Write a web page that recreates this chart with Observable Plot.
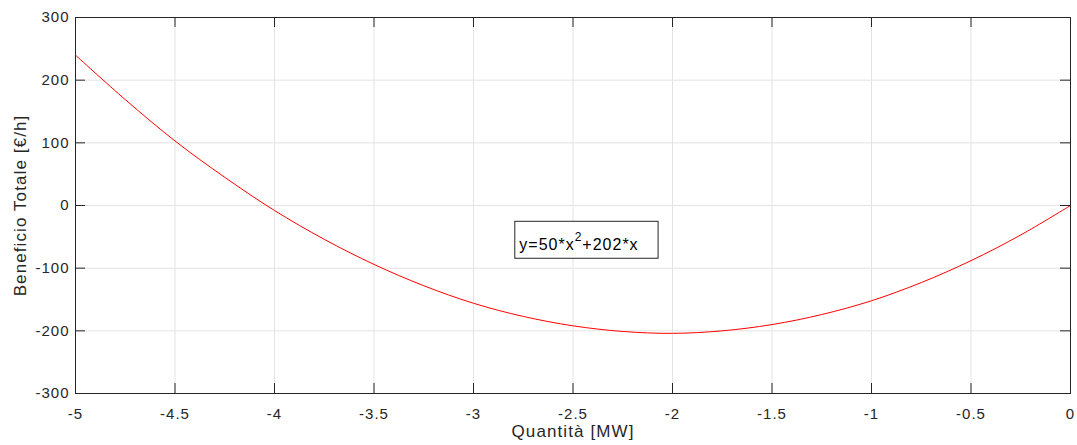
<!DOCTYPE html>
<html>
<head>
<meta charset="utf-8">
<script src="https://cdn.jsdelivr.net/npm/d3@7"></script>
<script src="https://cdn.jsdelivr.net/npm/@observablehq/plot@0.6"></script>
<style>
  html, body { margin: 0; padding: 0; background: #fff; }
  #chart { width: 1077px; height: 445px; }
  svg { font-family: "Liberation Sans", Arial, sans-serif; }
  svg text { letter-spacing: 1px; }
  g[aria-label="x-axis label"] text, g[aria-label="y-axis label"] text { font-size: 17px; letter-spacing: 1.1px; }
</style>
</head>
<body>
<div id="chart"></div>
<script>
// Quantità [MW] values
const quantita = [-5, -4.75, -4.5, -4.25, -4, -3.75, -3.5, -3.25, -3, -2.75, -2.5, -2.25, -2, -1.75, -1.5, -1.25, -1, -0.75, -0.5, -0.25, 0];
// Beneficio Totale [€/h] values
const beneficio = [240, 169, 103, 45, -8, -54, -94, -128, -156, -177, -192, -201, -204, -200, -190, -174, -152, -123, -88, -47, 0];
const xTicks = [-5, -4.5, -4, -3.5, -3, -2.5, -2, -1.5, -1, -0.5, 0];
const yTicks = [-300, -200, -100, 0, 100, 200, 300];
const annotationText = ["y=50*x", "2", "+202*x"];
const annotationBox = [{x1: -2.79, x2: -2.07, y1: -85, y2: -26}];

const data = quantita.map((q, i) => ({x: q, y: beneficio[i]}));
const axisColor = "#262626";
const gridColor = "#e3e3e3";
const W = 1077, H = 445, mL = 75, mR = 7, mT = 17, mB = 52;
const fw = W - mL - mR, fh = H - mT - mB;

const chart = Plot.plot({
  width: W, height: H,
  marginLeft: mL, marginRight: mR, marginTop: mT, marginBottom: mB,
  style: {fontFamily: "'Liberation Sans', Arial, sans-serif", fontSize: "15px", color: axisColor, background: "#fff"},
  x: {domain: [-5, 0]},
  y: {domain: [-300, 300]},
  marks: [
    Plot.gridX(xTicks, {stroke: gridColor, strokeOpacity: 1}),
    Plot.gridY(yTicks, {stroke: gridColor, strokeOpacity: 1}),
    Plot.line(data, {x: "x", y: "y", stroke: "#ff0000", strokeWidth: 1, curve: "catmull-rom"}),
    Plot.tickX(xTicks, {x: d => d, stroke: axisColor, insetTop: fh - 10}),
    Plot.tickX(xTicks, {x: d => d, stroke: axisColor, insetBottom: fh - 10}),
    Plot.tickY(yTicks, {y: d => d, stroke: axisColor, insetRight: fw - 10}),
    Plot.tickY(yTicks, {y: d => d, stroke: axisColor, insetLeft: fw - 10}),
    Plot.frame({stroke: axisColor, strokeWidth: 1}),
    Plot.axisX(xTicks, {tickSize: 0, tickPadding: 15, fontSize: 15, label: "Quantità [MW]", labelAnchor: "center", labelOffset: 43, labelArrow: "none", tickFormat: d => String(d)}),
    Plot.axisY(yTicks, {tickSize: 0, tickPadding: 6, fontSize: 15, label: "Beneficio Totale [€/h]", labelAnchor: "center", labelOffset: 62, labelArrow: "none", tickFormat: d => String(d)}),
    Plot.rect(annotationBox, {x1: "x1", x2: "x2", y1: "y1", y2: "y2", fill: "white", stroke: axisColor, strokeWidth: 1}),
    Plot.text(annotationBox, {x: "x1", y: d => (d.y1 + d.y2) / 2, text: () => annotationText.join(""), textAnchor: "start", dx: 4, dy: 5, fontSize: 16, fill: "#000", className: "anno"})
  ]
});

// superscript for the annotation
const annoText = chart.querySelector("g.anno text");
if (annoText) {
  annoText.textContent = "";
  const ns = "http://www.w3.org/2000/svg";
  const t1 = document.createElementNS(ns, "tspan"); t1.textContent = annotationText[0];
  const t2 = document.createElementNS(ns, "tspan"); t2.textContent = annotationText[1];
  t2.setAttribute("dy", "-9"); t2.setAttribute("font-size", "12");
  const t3 = document.createElementNS(ns, "tspan"); t3.textContent = annotationText[2];
  t3.setAttribute("dy", "9");
  annoText.append(t1, t2, t3);
}
document.getElementById("chart").append(chart);
</script>
</body>
</html>
